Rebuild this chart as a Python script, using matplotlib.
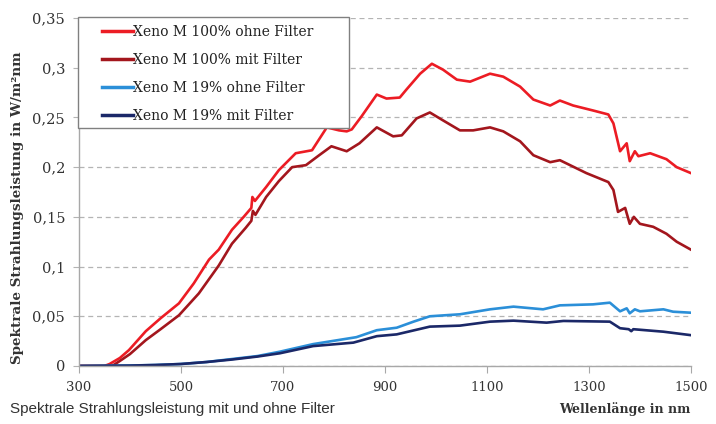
import matplotlib
matplotlib.use("Agg")
import matplotlib.pyplot as plt
from matplotlib.patches import Rectangle
from matplotlib.ticker import FuncFormatter

# Spectral irradiance (W/m²nm) vs wavelength (nm)
nm_red_ohne = [300, 350, 360, 380, 398, 431, 460, 496, 525, 555, 574, 600, 623, 638, 640, 645,
               667, 692, 725, 757, 786, 810, 825, 835, 854, 884, 903, 929, 942, 969, 992, 1014,
               1041, 1067, 1106, 1132, 1165, 1191, 1224, 1243, 1269, 1308, 1338, 1348, 1361,
               1374, 1380, 1390, 1397, 1420, 1452, 1472, 1500]
val_red_ohne = [0, 0, 0.002, 0.008, 0.016, 0.035, 0.048, 0.063, 0.083, 0.107, 0.117, 0.137, 0.150,
                0.159, 0.170, 0.166, 0.180, 0.197, 0.214, 0.217, 0.240, 0.237, 0.236, 0.238, 0.251,
                0.273, 0.269, 0.270, 0.278, 0.294, 0.304, 0.298, 0.288, 0.286, 0.294, 0.291, 0.281,
                0.268, 0.262, 0.267, 0.262, 0.257, 0.253, 0.244, 0.216, 0.224, 0.206, 0.216, 0.211,
                0.214, 0.208, 0.200, 0.194]

nm_red_mit = [300, 365, 380, 400, 431, 460, 496, 535, 574, 600, 627, 638, 641, 646, 667, 692, 718,
              745, 771, 795, 825, 850, 884, 916, 933, 962, 988, 1014, 1047, 1073, 1106, 1132, 1165,
              1191, 1224, 1243, 1295, 1338, 1348, 1357, 1371, 1380, 1388, 1400, 1426, 1452, 1472,
              1500]
val_red_mit = [0, 0, 0.005, 0.012, 0.026, 0.037, 0.051, 0.073, 0.101, 0.123, 0.139, 0.146, 0.156,
               0.152, 0.170, 0.186, 0.200, 0.202, 0.212, 0.221, 0.216, 0.224, 0.240, 0.231, 0.232,
               0.249, 0.255, 0.247, 0.237, 0.237, 0.240, 0.236, 0.226, 0.212, 0.205, 0.207, 0.194,
               0.185, 0.177, 0.155, 0.159, 0.143, 0.150, 0.143, 0.140, 0.133, 0.125, 0.117]

nm_blue_ohne = [300, 400, 450, 500, 550, 600, 650, 694, 759, 844, 884, 923, 956, 988, 1047, 1106,
                1152, 1210, 1243, 1308, 1341, 1361, 1374, 1380, 1390, 1400, 1446, 1465, 1500]
val_blue_ohne = [0, 0.0005, 0.001, 0.002, 0.004, 0.007, 0.010, 0.0144, 0.022, 0.029, 0.036, 0.0385,
                 0.0446, 0.050, 0.052, 0.057, 0.0597, 0.057, 0.061, 0.062, 0.0637, 0.055, 0.058,
                 0.053, 0.057, 0.055, 0.057, 0.0546, 0.0536]

nm_blue_mit = [300, 400, 450, 500, 550, 600, 650, 694, 759, 838, 884, 923, 988, 1047, 1106, 1152,
               1217, 1250, 1341, 1361, 1378, 1383, 1387, 1446, 1500]
val_blue_mit = [0, 0.0004, 0.001, 0.002, 0.004, 0.0065, 0.0095, 0.0128, 0.020, 0.0235, 0.030,
                0.0318, 0.0396, 0.0406, 0.0446, 0.0456, 0.0436, 0.0453, 0.0446, 0.038, 0.037,
                0.035, 0.037, 0.0345, 0.031]

labels = ["Xeno M 100% ohne Filter", "Xeno M 100% mit Filter",
          "Xeno M 19% ohne Filter", "Xeno M 19% mit Filter"]
colors = ["#ec1c24", "#a3161d", "#2b8fd8", "#1b2868"]

x_ticks = [300, 500, 700, 900, 1100, 1300, 1500]
y_ticks = [0, 0.05, 0.1, 0.15, 0.2, 0.25, 0.3, 0.35]

serif = "DejaVu Serif"
fig = plt.figure(figsize=(7.16, 4.24), dpi=100)
ax = fig.add_axes([0.1103, 0.1368, 0.8547, 0.8207])

series = [(nm_red_ohne, val_red_ohne), (nm_red_mit, val_red_mit),
          (nm_blue_ohne, val_blue_ohne), (nm_blue_mit, val_blue_mit)]
for (xs, ys), lab, c in zip(series, labels, colors):
    ax.plot(xs, ys, color=c, lw=1.9, label=lab, solid_joinstyle="round")

ax.set_xlim(300, 1500)
ax.set_ylim(0, 0.35)
ax.set_xticks(x_ticks)
ax.set_yticks(y_ticks)
ax.yaxis.set_major_formatter(FuncFormatter(lambda v, p: ("%g" % round(v, 2)).replace(".", ",")))

ax.grid(axis="y", color="#b4b4b4", linestyle=(0, (4, 3)), lw=0.9)
ax.set_axisbelow(True)
for s in ["top", "right"]:
    ax.spines[s].set_visible(False)
for s in ["left", "bottom"]:
    ax.spines[s].set_color("#a8a8a8")
    ax.spines[s].set_linewidth(1.0)

ax.tick_params(axis="x", direction="out", length=5, color="#a8a8a8", pad=6,
               labelsize=9.5, labelcolor="#333333")
ax.tick_params(axis="y", direction="out", length=4, color="#b4b4b4", pad=6,
               labelsize=10.5, labelcolor="#333333")
for t in ax.get_xticklabels() + ax.get_yticklabels():
    t.set_family(serif)

ax.set_ylabel("Spektrale Strahlungsleistung in W/m²nm", family=serif, fontweight="bold",
              fontsize=9.7, color="#333333")
ax.yaxis.set_label_coords(-0.09, 0.454)
fig.text(0.965, 0.018, "Wellenlänge in nm", family=serif, fontweight="bold", fontsize=9,
         color="#333333", ha="right", va="bottom")
fig.text(0.014, 0.018, "Spektrale Strahlungsleistung mit und ohne Filter",
         family="Liberation Sans", fontsize=11, color="#333333", ha="left", va="bottom")

# Legend: frameless entries on top of a hand-sized box
box = Rectangle((-0.002, 0.684), 0.443, 0.318, transform=ax.transAxes, facecolor="white",
                edgecolor="#808080", lw=1.0, zorder=4, clip_on=False)
ax.add_patch(box)
leg = ax.legend(loc="upper left", bbox_to_anchor=(0.03, 0.992), borderaxespad=0,
                prop={"family": serif, "size": 10}, frameon=False,
                handlelength=2.3, handletextpad=0.0, labelspacing=1.0, borderpad=0.3)
leg.set_zorder(5)
for h in leg.get_lines():
    h.set_linewidth(2.5)
for t in leg.get_texts():
    t.set_color("#222222")

fig.savefig("out.png", dpi=100)
